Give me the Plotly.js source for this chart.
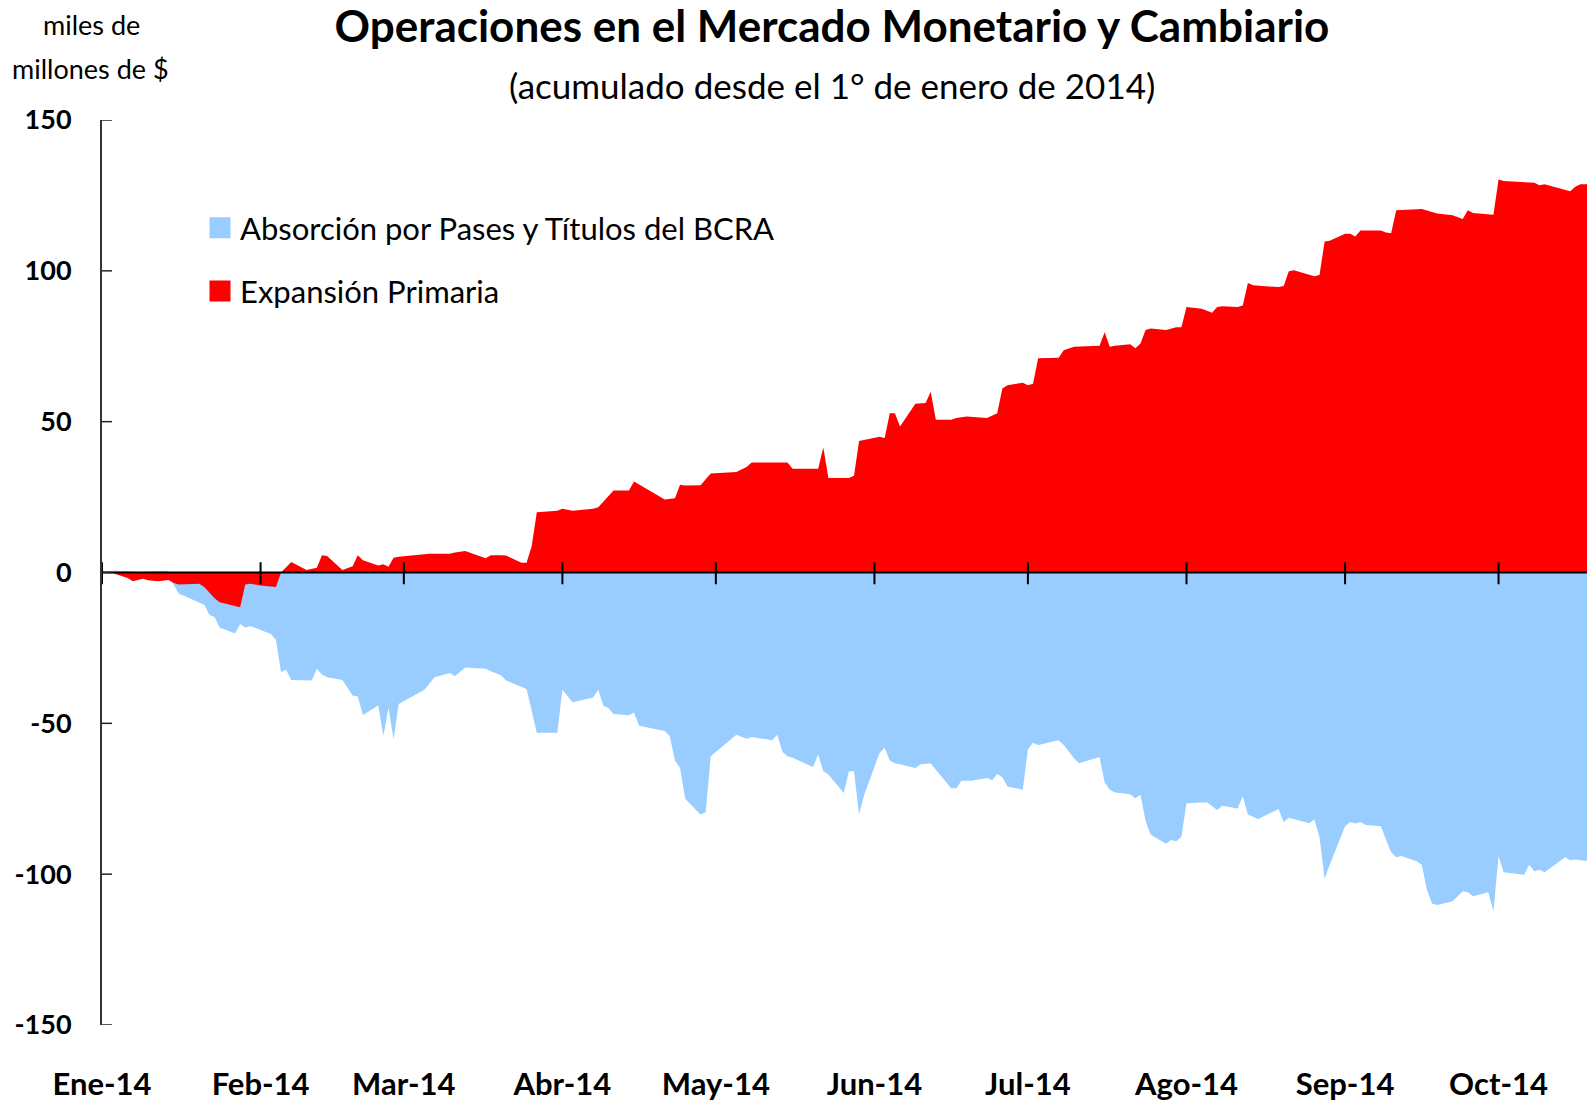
<!DOCTYPE html>
<html>
<head>
<meta charset="utf-8">
<script src="https://cdn.plot.ly/plotly-3.0.1.min.js"></script>
<style>html,body{margin:0;padding:0;background:#fff;}#chart{width:1587px;height:1101px;}</style>
</head>
<body>
<div id="chart"></div>
<script>
// ---- data (miles de millones de $, acumulado desde 1/1/2014) ----
var monthTicks = ['2014-01-01','2014-02-01','2014-03-01','2014-04-01','2014-05-01','2014-06-01','2014-07-01','2014-08-01','2014-09-01','2014-10-01'];
var monthLabels = ['Ene-14','Feb-14','Mar-14','Abr-14','May-14','Jun-14','Jul-14','Ago-14','Sep-14','Oct-14'];
var yTickValues = [-150, -100, -50, 0, 50, 100, 150];
var yTickLabels = ['-150', '-100', '-50', '0', '50', '100', '150'];

var expansionDates = ['2014-01-01','2014-01-03','2014-01-06','2014-01-07','2014-01-09','2014-01-10','2014-01-12','2014-01-14','2014-01-15','2014-01-16','2014-01-20','2014-01-21','2014-01-23','2014-01-24','2014-01-28','2014-01-29','2014-01-30','2014-02-01','2014-02-04','2014-02-05','2014-02-07','2014-02-10','2014-02-12','2014-02-13','2014-02-14','2014-02-17','2014-02-19','2014-02-20','2014-02-21','2014-02-24','2014-02-25','2014-02-26','2014-02-27','2014-02-28','2014-03-06','2014-03-10','2014-03-11','2014-03-13','2014-03-17','2014-03-18','2014-03-20','2014-03-21','2014-03-24','2014-03-25','2014-03-26','2014-03-27','2014-03-31','2014-04-01','2014-04-03','2014-04-07','2014-04-08','2014-04-09','2014-04-11','2014-04-14','2014-04-15','2014-04-21','2014-04-23','2014-04-24','2014-04-25','2014-04-28','2014-04-30','2014-05-05','2014-05-07','2014-05-08','2014-05-15','2014-05-16','2014-05-21','2014-05-22','2014-05-23','2014-05-27','2014-05-28','2014-05-29','2014-06-02','2014-06-03','2014-06-04','2014-06-05','2014-06-06','2014-06-09','2014-06-11','2014-06-12','2014-06-13','2014-06-16','2014-06-17','2014-06-19','2014-06-23','2014-06-25','2014-06-26','2014-06-27','2014-06-30','2014-07-01','2014-07-02','2014-07-03','2014-07-07','2014-07-08','2014-07-10','2014-07-15','2014-07-16','2014-07-17','2014-07-18','2014-07-21','2014-07-22','2014-07-23','2014-07-24','2014-07-25','2014-07-28','2014-07-30','2014-07-31','2014-08-01','2014-08-04','2014-08-06','2014-08-07','2014-08-08','2014-08-11','2014-08-12','2014-08-13','2014-08-14','2014-08-19','2014-08-20','2014-08-21','2014-08-22','2014-08-26','2014-08-27','2014-08-28','2014-08-29','2014-09-01','2014-09-02','2014-09-03','2014-09-04','2014-09-08','2014-09-09','2014-09-10','2014-09-11','2014-09-15','2014-09-16','2014-09-19','2014-09-22','2014-09-24','2014-09-25','2014-09-26','2014-09-30','2014-10-01','2014-10-02','2014-10-08','2014-10-09','2014-10-10','2014-10-15','2014-10-16','2014-10-17','2014-10-20'];
var expansionValues = [0.3,-0.2,-1.8,-2.9,-2.1,-2.6,-2.9,-2.5,-3.5,-4.0,-3.7,-4.8,-8.5,-9.9,-11.5,-4.0,-3.7,-4.3,-4.8,0.0,3.5,0.8,1.6,5.7,5.5,0.8,2.1,5.7,4.1,2.3,2.7,1.9,4.9,5.2,6.2,6.2,6.6,7.1,4.7,5.7,5.7,5.6,3.2,3.2,8.8,20.0,20.5,21.1,20.5,21.1,21.6,23.5,27.2,27.2,30.2,24.2,24.6,29.1,28.8,28.9,32.8,33.3,35.0,36.5,36.5,34.4,34.4,41.4,31.3,31.3,32.1,43.6,45.0,44.6,52.8,52.8,48.4,55.9,56.2,59.9,50.6,50.6,51.2,51.7,51.2,52.8,61.0,62.1,62.9,62.1,62.6,71.0,71.2,73.7,74.8,75.2,79.6,74.8,75.2,75.7,74.3,75.9,80.4,80.9,80.4,81.3,81.3,88.0,87.4,86.1,88.0,88.3,88.0,88.5,96.0,95.2,94.6,95.0,99.9,100.2,98.2,98.6,109.7,110.0,112.3,112.3,111.4,113.4,113.4,112.7,112.5,120.1,120.3,120.5,119.0,118.4,117.2,120.1,119.2,118.6,130.3,129.8,129.2,128.4,128.7,126.4,127.9,128.7,128.7];

var absorcionDates = ['2014-01-01','2014-01-03','2014-01-06','2014-01-08','2014-01-10','2014-01-13','2014-01-14','2014-01-15','2014-01-16','2014-01-21','2014-01-22','2014-01-23','2014-01-24','2014-01-27','2014-01-28','2014-01-29','2014-01-30','2014-02-03','2014-02-04','2014-02-05','2014-02-06','2014-02-07','2014-02-11','2014-02-12','2014-02-13','2014-02-14','2014-02-17','2014-02-19','2014-02-20','2014-02-21','2014-02-24','2014-02-25','2014-02-26','2014-02-27','2014-02-28','2014-03-05','2014-03-06','2014-03-07','2014-03-10','2014-03-11','2014-03-13','2014-03-17','2014-03-18','2014-03-20','2014-03-21','2014-03-24','2014-03-25','2014-03-26','2014-03-27','2014-03-31','2014-04-01','2014-04-03','2014-04-07','2014-04-08','2014-04-09','2014-04-10','2014-04-11','2014-04-14','2014-04-15','2014-04-16','2014-04-21','2014-04-22','2014-04-23','2014-04-24','2014-04-25','2014-04-28','2014-04-29','2014-04-30','2014-05-05','2014-05-07','2014-05-08','2014-05-12','2014-05-13','2014-05-14','2014-05-15','2014-05-16','2014-05-20','2014-05-21','2014-05-22','2014-05-23','2014-05-26','2014-05-27','2014-05-28','2014-05-29','2014-05-30','2014-06-02','2014-06-03','2014-06-04','2014-06-05','2014-06-06','2014-06-09','2014-06-10','2014-06-12','2014-06-16','2014-06-17','2014-06-18','2014-06-20','2014-06-23','2014-06-24','2014-06-25','2014-06-26','2014-06-27','2014-06-30','2014-07-01','2014-07-02','2014-07-03','2014-07-07','2014-07-08','2014-07-10','2014-07-11','2014-07-15','2014-07-16','2014-07-17','2014-07-18','2014-07-21','2014-07-22','2014-07-23','2014-07-24','2014-07-25','2014-07-28','2014-07-29','2014-07-30','2014-07-31','2014-08-01','2014-08-05','2014-08-07','2014-08-08','2014-08-11','2014-08-12','2014-08-13','2014-08-15','2014-08-19','2014-08-20','2014-08-21','2014-08-25','2014-08-26','2014-08-27','2014-08-28','2014-08-29','2014-09-01','2014-09-02','2014-09-03','2014-09-04','2014-09-05','2014-09-08','2014-09-09','2014-09-10','2014-09-11','2014-09-12','2014-09-15','2014-09-16','2014-09-17','2014-09-18','2014-09-19','2014-09-22','2014-09-23','2014-09-24','2014-09-25','2014-09-26','2014-09-29','2014-09-30','2014-10-01','2014-10-02','2014-10-06','2014-10-07','2014-10-08','2014-10-09','2014-10-10','2014-10-14','2014-10-15','2014-10-16','2014-10-20'];
var absorcionValues = [0.0,0.6,0.5,0.2,0.3,0.6,0.4,-4.0,-7.0,-10.7,-14.0,-14.8,-18.2,-20.2,-17.1,-18.2,-17.7,-20.4,-22.4,-33.0,-32.2,-35.6,-35.8,-31.9,-33.8,-34.7,-35.6,-40.8,-41.1,-47.2,-44.1,-54.2,-44.9,-55.3,-43.6,-38.9,-36.9,-34.7,-33.3,-34.4,-31.5,-31.9,-32.7,-34.1,-35.8,-37.8,-38.6,-45.8,-53.1,-53.1,-38.9,-43.0,-41.4,-38.9,-44.1,-44.9,-46.9,-47.3,-46.4,-50.8,-52.5,-54.2,-62.3,-64.8,-75.0,-80.2,-79.5,-60.9,-53.8,-55.1,-54.5,-55.6,-53.8,-59.4,-60.9,-61.4,-64.5,-60.3,-65.9,-67.0,-73.1,-65.9,-65.9,-80.2,-73.7,-59.8,-58.1,-62.3,-63.2,-63.6,-64.8,-63.6,-63.3,-71.5,-71.5,-69.0,-69.0,-68.1,-68.9,-66.8,-67.9,-70.9,-72.0,-58.6,-56.4,-57.2,-55.6,-57.2,-61.6,-63.2,-61.2,-69.5,-72.0,-72.9,-73.5,-74.8,-73.7,-82.4,-86.9,-89.9,-88.7,-89.1,-87.6,-76.5,-76.2,-78.7,-77.3,-78.2,-74.2,-80.2,-81.7,-78.4,-82.8,-81.3,-83.1,-81.9,-87.7,-101.4,-96.9,-84.1,-82.7,-83.2,-82.7,-83.7,-84.1,-88.6,-92.7,-94.4,-94.0,-95.7,-96.9,-105.2,-109.7,-110.2,-109.0,-107.3,-105.7,-106.0,-107.3,-106.0,-112.3,-94.0,-99.4,-100.2,-96.9,-99.0,-98.5,-99.4,-94.4,-95.4,-95.1,-96.1];

var seriesNames = ['Absorción por Pases y Títulos del BCRA', 'Expansión Primaria'];
var seriesColors = ['#99CCFF', '#FF0000'];

// ---- traces ----
var traces = [
  {x: absorcionDates, y: absorcionValues, type: 'scatter', mode: 'lines', fill: 'tozeroy',
   fillcolor: seriesColors[0], line: {width: 0, color: seriesColors[0]}, showlegend: false, hoverinfo: 'x+y'},
  {x: expansionDates, y: expansionValues, type: 'scatter', mode: 'lines', fill: 'tozeroy',
   fillcolor: seriesColors[1], line: {width: 0, color: seriesColors[1]}, showlegend: false, hoverinfo: 'x+y'}
];
// legend entries (square swatches)
seriesNames.forEach(function (nm, i) {
  traces.push({x: [null], y: [null], type: 'scatter', mode: 'markers', name: nm, legendgroup: 'g' + i,
    marker: {symbol: 'square', size: 16, color: seriesColors[i], line: {width: 5, color: seriesColors[i]}},
    hoverinfo: 'skip'});
});

// zero line with month tick crosses, and y-axis ticks pointing into the plot
var shapes = [{type: 'line', xref: 'paper', x0: 0, x1: 1, yref: 'y', y0: 0, y1: 0,
  line: {color: '#000', width: 2}, layer: 'above'}];
monthTicks.forEach(function (d) {
  shapes.push({type: 'line', xref: 'x', x0: d, x1: d, yref: 'y', y0: -3.9, y1: 3.4,
    line: {color: '#000', width: 2}, layer: 'above'});
});
yTickValues.forEach(function (v) {
  shapes.push({type: 'line', xref: 'paper', x0: 0, x1: 10 / 1485, yref: 'y', y0: v, y1: v,
    line: {color: '#222', width: 1.5}, layer: 'above'});
});

var layout = {
  width: 1587, height: 1101,
  margin: {l: 102, r: 0, t: 120, b: 76, pad: 0},
  paper_bgcolor: '#fff', plot_bgcolor: '#fff',
  font: {family: 'Lato, "Open Sans", sans-serif', color: '#000'},
  title: {
    text: 'Operaciones en el Mercado Monetario y Cambiario',
    font: {family: 'Lato, sans-serif', size: 44, weight: 'bold', color: '#000'},
    xref: 'container', yref: 'container', x: 832 / 1587, xanchor: 'center',
    y: 1 - 27 / 1101, yanchor: 'middle'
  },
  xaxis: {
    type: 'date', range: ['2014-01-01', '2014-10-18 07:00'],
    tickmode: 'array', tickvals: monthTicks, ticktext: monthLabels,
    ticks: '', showline: false, showgrid: false, zeroline: false,
    ticklabelstandoff: 38,
    tickfont: {family: 'Lato, sans-serif', size: 31, weight: 'bold', color: '#000'}
  },
  yaxis: {
    range: [-150, 150], tickmode: 'array', tickvals: yTickValues, ticktext: yTickLabels,
    ticks: '', showline: true, linecolor: '#333', linewidth: 2, zeroline: false, showgrid: false,
    layer: 'above traces',
    ticklabelstandoff: 23,
    tickfont: {family: 'Lato, sans-serif', size: 27, weight: 'bold', color: '#000'}
  },
  legend: {
    x: 0.066, y: 0.9105, xanchor: 'left', yanchor: 'top',
    bgcolor: 'rgba(0,0,0,0)', borderwidth: 0,
    traceorder: 'grouped', tracegroupgap: 20,
    font: {family: 'Lato, sans-serif', size: 31, color: '#000'}
  },
  shapes: shapes,
  annotations: [
    {text: '(acumulado desde el 1° de enero de 2014)', xref: 'paper', yref: 'paper',
     x: (832 - 102) / 1485, y: (1025 - 85) / 905, xanchor: 'center', yanchor: 'middle', showarrow: false,
     font: {family: 'Lato, sans-serif', size: 35, color: '#000'}},
    {text: 'miles de', xref: 'paper', yref: 'paper',
     x: (91 - 102) / 1485, y: (1025 - 25) / 905, xanchor: 'center', yanchor: 'middle', showarrow: false,
     font: {family: 'Lato, sans-serif', size: 27, color: '#000'}},
    {text: 'millones de $', xref: 'paper', yref: 'paper',
     x: (90 - 102) / 1485, y: (1025 - 69) / 905, xanchor: 'center', yanchor: 'middle', showarrow: false,
     font: {family: 'Lato, sans-serif', size: 27, color: '#000'}}
  ]
};

Plotly.newPlot('chart', traces, layout, {displayModeBar: false, staticPlot: true});
</script>
</body>
</html>
